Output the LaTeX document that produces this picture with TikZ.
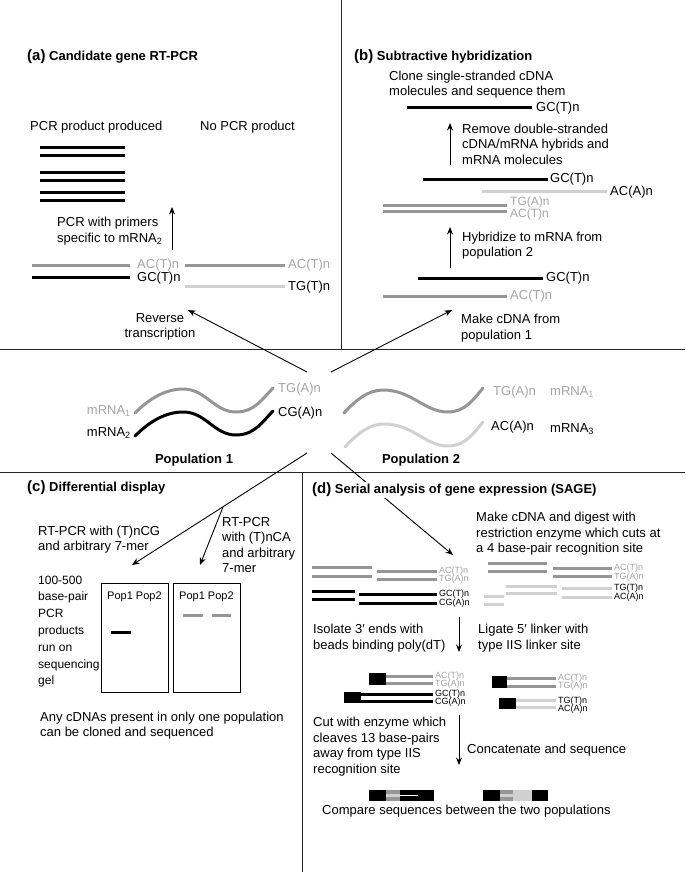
\documentclass[tikz,border=0pt]{standalone}
\usepackage{fontspec}
\setmainfont{Liberation Sans}
\usetikzlibrary{arrows.meta}
\definecolor{midg}{RGB}{150,150,150}
\definecolor{lightg}{RGB}{208,208,208}
\definecolor{gtext}{RGB}{165,165,165}
\begin{document}
\begin{tikzpicture}[x=1pt,y=-1pt,
  txt/.style={font=\fontsize{13}{15.5}\selectfont, inner sep=0pt, align=left, anchor=west},
  ctxt/.style={font=\fontsize{13}{15.5}\selectfont, inner sep=0pt, align=center},
  lbl/.style={font=\fontsize{13}{15.5}\selectfont, inner sep=0pt, anchor=west},
  slbl/.style={font=\fontsize{9}{10}\selectfont, inner sep=0pt, anchor=west},
  ttl/.style={font=\fontsize{13}{15}\selectfont\bfseries, inner sep=0pt, anchor=west},
  strand/.style={line width=3pt},
  wave/.style={line width=3pt, line cap=round},
  arr/.style={line width=0.9pt, -{Stealth[length=7.5pt,width=6pt]}},
  frame/.style={line width=0.8pt, black!85},
]
\useasboundingbox (0,0) rectangle (685,872);
\fill[white] (0,0) rectangle (685,872);

% ---------- frame lines ----------
\draw[frame] (341,0) -- (341,349);
\draw[frame] (0,349) -- (685,349);
\draw[frame] (0,472) -- (685,472);
\draw[frame] (302,472) -- (302,872);

% ---------- centre: populations ----------
\draw[wave, midg] (135,413) .. controls (150,398) and (166,389) .. (183,389)
   .. controls (206,389) and (214,412) .. (236,412) .. controls (255,412) and (263,398) .. (273,388);
\draw[wave, black] (135,436) .. controls (150,421) and (166,412) .. (183,412)
   .. controls (206,412) and (214,435) .. (236,435) .. controls (255,435) and (263,421) .. (273,411);
\draw[wave, midg] (344,413) .. controls (356,400) and (368,390) .. (383,390)
   .. controls (412,390) and (424,412) .. (448,412) .. controls (465,412) and (474,399) .. (483,388);
\draw[wave, lightg] (345,447) .. controls (357,434) and (369,424) .. (384,424)
   .. controls (413,424) and (425,446) .. (448,446) .. controls (465,446) and (474,433) .. (483,422);

\node[lbl, anchor=east, text=gtext] (m1l) at (131,411) {mRNA\textsubscript{1}};
\node[lbl, anchor=east] (m2l) at (131,433) {mRNA\textsubscript{2}};
\node[lbl, text=gtext] (tgal) at (278,389) {TG(A)n};
\node[lbl] (cgal) at (278,413) {CG(A)n};
\node[lbl, text=gtext] (tgar) at (493,392) {TG(A)n};
\node[lbl, text=gtext] (m1r) at (550,392) {mRNA\textsubscript{1}};
\node[lbl] (acar) at (491,427) {AC(A)n};
\node[lbl] (m3r) at (550,429) {mRNA\textsubscript{3}};
\node[ttl, anchor=center] (pop1) at (194,460) {Population 1};
\node[ttl, anchor=center] (pop2) at (421,460) {Population 2};

% connectors from centre
\coordinate (c1) at (307,372);
\coordinate (c2) at (331,372);
\coordinate (c3) at (307,453);
\coordinate (c4) at (331,453);
\coordinate (ta) at (188,310);
\coordinate (tb) at (452,310);
\coordinate (tc) at (132,565);
\coordinate (br) at (223,507);
\coordinate (tc2) at (200,565);
\coordinate (td) at (453,555);
\draw[arr] (c1) -- (ta);
\draw[arr] (c2) -- (tb);
\draw[arr] (c3) -- (tc);
\draw[arr] (br) -- (tc2);
\draw[arr] (c4) -- (td);

% ---------- panel (a) ----------
\node[ttl] (ta1) at (27,57) {{\fontsize{15}{15}\selectfont(a)} Candidate gene RT-PCR};
\node[lbl] (pp) at (30,127) {PCR product produced};
\node[lbl] (np) at (200,127) {No PCR product};
\foreach \yy in {147,155,172,180,192,200}
  \draw[strand] (40,\yy) -- (125,\yy);
\coordinate (pa1) at (172,250);
\coordinate (pa2) at (172,207);
\draw[arr] (pa1) -- (pa2);
\node[txt] (pcrw) at (57,231) {PCR with primers\\specific to mRNA\textsubscript{2}};
\draw[strand, midg] (32,265) -- (130,265);
\node[lbl, text=gtext] (a1) at (137,265) {AC(T)n};
\draw[strand] (32,277) -- (130,277);
\node[lbl] (a2) at (137,278) {GC(T)n};
\draw[strand, midg] (185,265) -- (285,265);
\node[lbl, text=gtext] (a3) at (288,265) {AC(T)n};
\draw[strand, lightg] (185,286) -- (285,286);
\node[lbl] (a4) at (288,287) {TG(T)n};
\node[ctxt] (rt) at (160,327) {Reverse\\transcription};

% ---------- panel (b) ----------
\node[ttl] (tb1) at (354,57) {{\fontsize{15}{15}\selectfont(b)} Subtractive hybridization};
\node[txt] (clone) at (389,84.5) {Clone single-stranded cDNA\\molecules and sequence them};
\draw[strand] (407,108) -- (532,108);
\node[lbl] (b1) at (536,108) {GC(T)n};
\coordinate (pb1) at (450,165);
\coordinate (pb2) at (450,123);
\draw[arr] (pb1) -- (pb2);
\node[txt] (remove) at (462,144) {Remove double-stranded\\cDNA/mRNA hybrids and\\mRNA molecules};
\draw[strand] (423,179) -- (548,179);
\node[lbl] (b2) at (550,179) {GC(T)n};
\draw[strand, lightg] (482,191) -- (607,191);
\node[lbl] (b3) at (610,192) {AC(A)n};
\draw[strand, midg] (383,205) -- (507,205);
\draw[strand, midg] (383,211) -- (507,211);
\node[lbl, font=\fontsize{12}{13}\selectfont, text=gtext] (b4) at (510,202.5) {TG(A)n};
\node[lbl, font=\fontsize{12}{13}\selectfont, text=gtext] (b5) at (510,214.5) {AC(T)n};
\coordinate (pb3) at (450,268);
\coordinate (pb4) at (450,227);
\draw[arr] (pb3) -- (pb4);
\node[txt] (hyb) at (462,245.5) {Hybridize to mRNA from\\population 2};
\draw[strand] (418,278) -- (543,278);
\node[lbl] (b6) at (546,278) {GC(T)n};
\draw[strand, midg] (383,296) -- (507,296);
\node[lbl, text=gtext] (b7) at (510,296) {AC(T)n};
\node[txt] (make) at (461,328) {Make cDNA from\\population 1};

% ---------- panel (c) ----------
\node[ttl] (tc1) at (27,488) {{\fontsize{15}{15}\selectfont(c)} Differential display};
\node[txt] (rtcg) at (38,539.5) {RT-PCR with (T)nCG\\and arbitrary 7-mer};
\node[txt] (rtca) at (222,545) {RT-PCR\\with (T)nCA\\and arbitrary\\7-mer};
\node[txt, font=\fontsize{12}{16.8}\selectfont] (bp) at (38,631.5) {100-500\\base-pair\\PCR\\products\\run on\\sequencing\\gel};
\draw[line width=0.8pt] (101,583) rectangle (168,692);
\draw[line width=0.8pt] (173,583) rectangle (240,692);
\node[lbl, font=\fontsize{11}{12}\selectfont] (pg1) at (107,597) {Pop1 Pop2};
\node[lbl, font=\fontsize{11}{12}\selectfont] (pg2) at (179,597) {Pop1 Pop2};
\draw[strand] (111,632) -- (131,632);
\draw[strand, midg] (183,615) -- (203,615);
\draw[strand, midg] (212,615) -- (231,615);
\node[txt] (any) at (40,725.5) {Any cDNAs present in only one population\\can be cloned and sequenced};

% ---------- panel (d) ----------
\node[ttl, fill=white, inner sep=1.5pt] (td1) at (310.5,490) {{\fontsize{15}{15}\selectfont(d)} Serial analysis of gene expression (SAGE)};
\node[txt] (mk) at (476,534) {Make cDNA and digest with\\restriction enzyme which cuts at\\a 4 base-pair recognition site};
% digested fragments, population 1
\draw[strand, midg] (312,567) -- (372,567);
\draw[strand, midg] (312,576) -- (372,576);
\draw[strand, midg] (377,571) -- (437,571);
\draw[strand, midg] (377,579) -- (437,579);
\node[slbl, text=gtext] (d1) at (439,571) {AC(T)n};
\node[slbl, text=gtext] (d2) at (439,579.5) {TG(A)n};
\draw[strand] (312,591) -- (355,591);
\draw[strand] (312,599) -- (355,599);
\draw[strand] (359,594) -- (437,594);
\draw[strand] (359,603) -- (437,603);
\node[slbl] (d3) at (439,594.5) {GC(T)n};
\node[slbl] (d4) at (439,603.5) {CG(A)n};
% population 2
\draw[strand, lightg] (484,596) -- (504,596);
\draw[strand, lightg] (484,604) -- (504,604);
\draw[strand, midg] (488,563) -- (547,563);
\draw[strand, midg] (488,571) -- (547,571);
\draw[strand, midg] (553,568) -- (612,568);
\draw[strand, midg] (553,576) -- (612,576);
\node[slbl, text=gtext] (d5) at (614,568) {AC(T)n};
\node[slbl, text=gtext] (d6) at (614,577) {TG(A)n};
\draw[strand, lightg] (506,586) -- (557,586);
\draw[strand, lightg] (506,593) -- (557,593);
\draw[strand, lightg] (562,588) -- (612,588);
\draw[strand, lightg] (562,597) -- (612,597);
\node[slbl] (d7) at (614,588.5) {TG(T)n};
\node[slbl] (d8) at (614,597.5) {AC(A)n};

\node[txt] (iso) at (313,638) {Isolate 3′ ends with\\beads binding poly(dT)};
\coordinate (pd1) at (459,617);
\coordinate (pd2) at (459,652);
\draw[arr] (pd1) -- (pd2);
\node[txt] (lig) at (478,638) {Ligate 5′ linker with\\type IIS linker site};

% linker-ligated tags
\draw[strand, midg] (386,676) -- (433,676);
\draw[strand, midg] (386,683) -- (433,683);
\fill (369,673) rectangle (386,685);
\node[slbl, text=gtext] (e1) at (435,676) {AC(T)n};
\node[slbl, text=gtext] (e2) at (435,684) {TG(A)n};
\draw[strand] (361,694) -- (433,694);
\draw[strand] (361,701.5) -- (433,701.5);
\fill (344,692) rectangle (361,703);
\node[slbl] (e3) at (435,694.5) {GC(T)n};
\node[slbl] (e4) at (435,702.5) {CG(A)n};
\draw[strand, midg] (507,678.5) -- (556,678.5);
\draw[strand, midg] (507,686) -- (556,686);
\fill (492,676) rectangle (507,688);
\node[slbl, text=gtext] (e5) at (558,678.5) {AC(T)n};
\node[slbl, text=gtext] (e6) at (558,686.5) {TG(A)n};
\draw[strand, lightg] (516,700.5) -- (556,700.5);
\draw[strand, lightg] (516,707.5) -- (556,707.5);
\fill (499,698) rectangle (516,709);
\node[slbl] (e7) at (558,701) {TG(T)n};
\node[slbl] (e8) at (558,709) {AC(A)n};

\node[txt] (cut) at (313,746.5) {Cut with enzyme which\\cleaves 13 base-pairs\\away from type IIS\\recognition site};
\coordinate (pd3) at (459,715);
\coordinate (pd4) at (459,765);
\draw[arr] (pd3) -- (pd4);
\node[lbl] (cat) at (467,750) {Concatenate and sequence};

% concatemers
\fill (369,790) rectangle (386,801);
\fill[midg] (386,790) rectangle (400,801);
\fill[lightg] (386,794) rectangle (400,797);
\fill (400,790) rectangle (418,801);
\fill[white] (400,794.7) rectangle (418,796.3);
\fill (418,790) rectangle (434,801);

\fill (483,790) rectangle (500,801);
\fill[midg] (500,790) rectangle (513,801);
\fill[lightg] (500,794) rectangle (513,797);
\fill[lightg] (513,790) rectangle (532,801);
\fill (532,790) rectangle (548,801);

\node[lbl] (cmp) at (322,811) {Compare sequences between the two populations};
\end{tikzpicture}
\end{document}
